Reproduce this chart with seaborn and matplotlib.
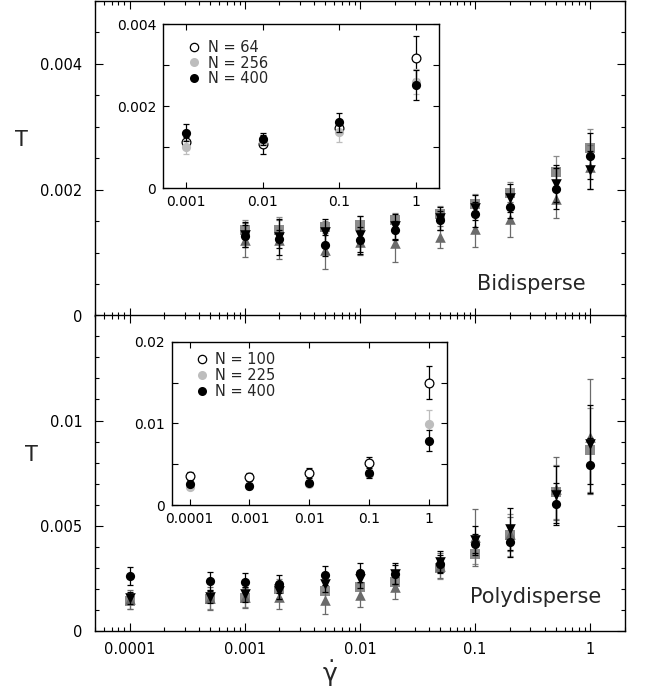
import numpy as np
import pandas as pd
import seaborn as sns
import matplotlib
matplotlib.use("Agg")
import matplotlib.pyplot as plt
from matplotlib.ticker import FixedLocator, MultipleLocator, FuncFormatter, NullFormatter, NullLocator
from matplotlib.lines import Line2D

sns.set_style("ticks")
plt.rcParams["font.family"] = ["DejaVu Sans"]
plt.rcParams["mathtext.fontset"] = "dejavusans"

# ---- data (T values in units of 1e-3) ----
# Bidisperse, main panel
x_bi = [0.001, 0.002, 0.005, 0.01, 0.02, 0.05, 0.1, 0.2, 0.5, 1]
bi_sq = [1.37, 1.37, 1.41, 1.44, 1.52, 1.62, 1.77, 1.95, 2.28, 2.66]
bi_sq_err = [0.15, 0.20, 0.10, 0.14, 0.11, 0.12, 0.16, 0.17, 0.25, 0.30]
bi_circ = [1.27, 1.22, 1.12, 1.21, 1.36, 1.52, 1.61, 1.73, 2.02, 2.54]
bi_circ_err = [0.17, 0.15, 0.17, 0.20, 0.15, 0.15, 0.20, 0.18, 0.32, 0.36]
bi_dtri = [1.29, 1.25, 1.33, 1.28, 1.42, 1.55, 1.72, 1.87, 2.10, 2.31]
bi_dtri_err = [0.20, 0.28, 0.20, 0.30, 0.20, 0.18, 0.20, 0.22, 0.30, 0.30]
bi_utri = [1.21, 1.21, 1.05, 1.17, 1.15, 1.25, 1.38, 1.53, 1.85, 2.36]
bi_utri_err = [0.27, 0.31, 0.30, 0.20, 0.30, 0.18, 0.28, 0.28, 0.29, 0.35]

# Bidisperse, inset (system size)
x_bi_in = [0.001, 0.01, 0.1, 1]
bi_n64 = [1.14, 1.07, 1.48, 3.19]
bi_n64_err = [0.10, 0.23, 0.10, 0.52]
bi_n256 = [1.01, 1.15, 1.38, 2.60]
bi_n256_err = [0.18, 0.10, 0.26, 0.30]
bi_n400 = [1.36, 1.20, 1.61, 2.52]
bi_n400_err = [0.20, 0.15, 0.23, 0.37]

# Polydisperse, main panel
x_po = [1e-4, 5e-4, 1e-3, 2e-3, 5e-3, 0.01, 0.02, 0.05, 0.1, 0.2, 0.5, 1]
po_sq = [1.42, 1.50, 1.58, 2.00, 1.90, 2.09, 2.33, 2.99, 3.64, 4.54, 6.60, 8.61]
po_sq_err = [0.40, 0.45, 0.45, 0.45, 0.50, 0.50, 0.40, 0.50, 0.45, 1.00, 1.30, 2.00]
po_circ = [2.61, 2.37, 2.33, 2.25, 2.64, 2.77, 2.72, 3.20, 4.12, 4.23, 6.02, 7.87]
po_circ_err = [0.43, 0.43, 0.44, 0.43, 0.45, 0.46, 0.50, 0.40, 0.50, 0.70, 1.00, 1.30]
po_dtri = [1.57, 1.61, 1.74, 1.88, 2.25, 2.45, 2.69, 3.28, 4.34, 4.86, 6.48, 8.86]
po_dtri_err = [0.30, 0.30, 0.35, 0.35, 0.40, 0.40, 0.45, 0.52, 0.65, 1.00, 1.35, 1.90]
po_utri = [1.50, 1.55, 1.60, 1.61, 1.49, 1.70, 2.09, 3.10, 4.46, 4.60, 6.76, 9.24]
po_utri_err = [0.45, 0.55, 0.50, 0.58, 0.70, 0.56, 0.59, 0.60, 1.35, 0.80, 1.50, 2.74]

# Polydisperse, inset (system size)
x_po_in = [1e-4, 1e-3, 1e-2, 0.1, 1]
po_n100 = [3.59, 3.47, 3.88, 5.10, 14.97]
po_n100_err = [0.50, 0.50, 0.60, 0.80, 2.00]
po_n225 = [2.24, 2.30, 2.60, 3.80, 9.91]
po_n225_err = [0.30, 0.30, 0.30, 0.40, 1.70]
po_n400 = [2.57, 2.33, 2.73, 3.88, 7.87]
po_n400_err = [0.30, 0.30, 0.30, 0.60, 1.30]

SQ_C = "#8c8c8c"
UT_C = "#6b6b6b"
LG_C = "#bdbdbd"


def draw(ax, x, y, err, color, marker, size, face=None, z=3):
    y = np.array(y) * 1e-3
    err = np.array(err) * 1e-3
    ax.errorbar(x, y, yerr=err, fmt="none", ecolor=color, elinewidth=0.9,
                capsize=2.2, capthick=0.9, zorder=z)
    d = pd.DataFrame({"x": x, "y": y})
    if face is None:
        sns.scatterplot(data=d, x="x", y="y", ax=ax, marker=marker, s=size,
                        color=color, linewidth=0, zorder=z + 0.5, legend=False)
    else:
        sns.scatterplot(data=d, x="x", y="y", ax=ax, marker=marker, s=size,
                        color=face, edgecolor=color, linewidth=0.9,
                        zorder=z + 0.5, legend=False)


fig = plt.figure(figsize=(6.46, 6.92), dpi=100)
ax_top = fig.add_axes([0.147, 0.5434, 0.8205, 0.4556])
ax_bot = fig.add_axes([0.147, 0.0882, 0.8205, 0.4562])
in_top = fig.add_axes([0.2523, 0.7279, 0.4277, 0.2370])
in_bot = fig.add_axes([0.2658, 0.2702, 0.4257, 0.2360])

# main panels
for ax, x, sq, sqe, ut, ute, dt, dte, ci, cie in [
        (ax_top, x_bi, bi_sq, bi_sq_err, bi_utri, bi_utri_err, bi_dtri, bi_dtri_err, bi_circ, bi_circ_err),
        (ax_bot, x_po, po_sq, po_sq_err, po_utri, po_utri_err, po_dtri, po_dtri_err, po_circ, po_circ_err)]:
    draw(ax, x, sq, sqe, SQ_C, "s", 42, z=3)
    draw(ax, x, ut, ute, UT_C, "^", 58, z=4)
    draw(ax, x, dt, dte, "black", "v", 58, z=5)
    draw(ax, x, ci, cie, "black", "o", 44, z=6)

# insets
draw(in_top, x_bi_in, bi_n64, bi_n64_err, "black", "o", 40, face="white", z=3)
draw(in_top, x_bi_in, bi_n256, bi_n256_err, LG_C, "o", 44, z=4)
draw(in_top, x_bi_in, bi_n400, bi_n400_err, "black", "o", 44, z=5)
draw(in_bot, x_po_in, po_n100, po_n100_err, "black", "o", 40, face="white", z=3)
draw(in_bot, x_po_in, po_n225, po_n225_err, LG_C, "o", 44, z=4)
draw(in_bot, x_po_in, po_n400, po_n400_err, "black", "o", 44, z=5)

fmt = FuncFormatter(lambda v, p: "0" if v == 0 else "%g" % v)

for ax in (ax_top, ax_bot, in_top, in_bot):
    ax.set_xscale("log")
    ax.set_xlabel("")
    ax.set_ylabel("")
    ax.set_facecolor("white")
    ax.tick_params(which="both", direction="in", top=True, right=True,
                   colors="black", width=0.8)
    ax.xaxis.set_minor_formatter(NullFormatter())
    ax.xaxis.set_major_formatter(fmt)
    ax.yaxis.set_major_formatter(fmt)
    for s in ax.spines.values():
        s.set_linewidth(1.0)
        s.set_color("black")

for ax in (ax_top, ax_bot):
    ax.set_xlim(5e-5, 2)
    ax.xaxis.set_major_locator(FixedLocator([1e-4, 1e-3, 1e-2, 0.1, 1]))
    ax.tick_params(which="major", length=6, labelsize=10.5, pad=9)
    ax.tick_params(which="minor", length=3)
ax_bot.tick_params(axis="x", which="major", pad=8)

ax_top.set_ylim(0, 0.005)
ax_top.yaxis.set_major_locator(FixedLocator([0, 0.002, 0.004]))
ax_top.yaxis.set_minor_locator(MultipleLocator(0.0005))
ax_top.tick_params(labelbottom=False)

ax_bot.set_ylim(0, 0.015)
ax_bot.yaxis.set_major_locator(FixedLocator([0, 0.005, 0.01]))
ax_bot.yaxis.set_minor_locator(MultipleLocator(0.001))

for ax in (in_top, in_bot):
    ax.xaxis.set_minor_locator(NullLocator())
    ax.tick_params(which="major", length=4.5, labelsize=10, pad=5)
    ax.tick_params(which="minor", length=4.5)
    ax.set_zorder(10)

in_top.set_xlim(5e-4, 2)
in_top.xaxis.set_major_locator(FixedLocator([1e-3, 1e-2, 0.1, 1]))
in_top.set_ylim(0, 0.004)
in_top.yaxis.set_major_locator(FixedLocator([0, 0.002, 0.004]))
in_top.yaxis.set_minor_locator(MultipleLocator(0.001))

in_bot.set_xlim(5e-5, 2)
in_bot.xaxis.set_major_locator(FixedLocator([1e-4, 1e-3, 1e-2, 0.1, 1]))
in_bot.set_ylim(0, 0.02)
in_bot.yaxis.set_major_locator(FixedLocator([0, 0.01, 0.02]))
in_bot.yaxis.set_minor_locator(MultipleLocator(0.005))

# legends in insets
def handles(labels):
    h = [Line2D([], [], ls="none", marker="o", ms=6, mfc="white", mec="black", mew=0.9),
         Line2D([], [], ls="none", marker="o", ms=6.5, mfc=LG_C, mec=LG_C, mew=0),
         Line2D([], [], ls="none", marker="o", ms=6.5, mfc="black", mec="black", mew=0)]
    return h, labels

h, l = handles(["N = 64", "N = 256", "N = 400"])
in_top.legend(h, l, loc="upper left", bbox_to_anchor=(0.085, 0.905), frameon=False,
              fontsize=10.5, handlelength=1.0, handletextpad=0.45, labelspacing=0.05,
              borderpad=0, borderaxespad=0)
h, l = handles(["N = 100", "N = 225", "N = 400"])
in_bot.legend(h, l, loc="upper left", bbox_to_anchor=(0.082, 0.935), frameon=False,
              fontsize=10.5, handlelength=1.0, handletextpad=0.45, labelspacing=0.05,
              borderpad=0, borderaxespad=0)

# labels
ax_top.text(-0.138, 0.5585, "T", transform=ax_top.transAxes, fontsize=15,
            ha="center", va="center")
ax_bot.text(-0.119, 0.557, "T", transform=ax_bot.transAxes, fontsize=15,
            ha="center", va="center")
ax_top.text(0.8226, 0.0823, "Bidisperse", transform=ax_top.transAxes,
            fontsize=15, ha="center", va="baseline")
ax_bot.text(0.8317, 0.0896, "Polydisperse", transform=ax_bot.transAxes,
            fontsize=15, ha="center", va="baseline")
fig.text(0.511, 0.004, r"$\dot{\mathrm{\gamma}}$", fontsize=18,
         ha="center", va="bottom")

fig.savefig("out.png", dpi=100)
